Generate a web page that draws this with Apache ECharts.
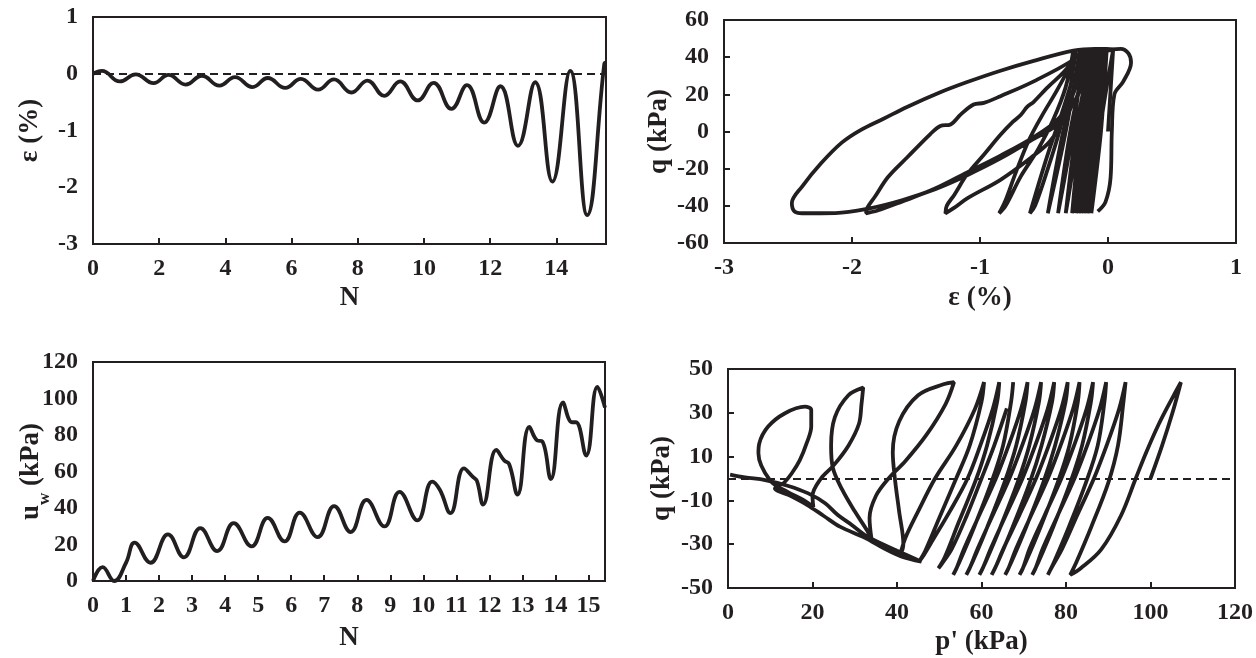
<!DOCTYPE html>
<html>
<head>
<meta charset="utf-8">
<script src="https://cdn.jsdelivr.net/npm/echarts@6/dist/echarts.min.js"></script>
<style>
html,body{margin:0;padding:0;background:#fff;}
#chart{width:1256px;height:658px;}
</style>
</head>
<body>
<div id="chart"></div>
<script>
// ---- Panel (a): axial strain vs number of cycles ----
const strainHistory = [
  [0,0.0],[0.27,0.05],[0.81,-0.135],[1.29,-0.01],[1.83,-0.165],[2.28,-0.02],[2.8,-0.19],
  [3.29,-0.035],[3.82,-0.21],[4.29,-0.06],[4.82,-0.235],[5.28,-0.075],[5.81,-0.25],
  [6.28,-0.09],[6.8,-0.28],[7.28,-0.1],[7.81,-0.33],[8.29,-0.12],[8.8,-0.39],
  [9.28,-0.135],[9.81,-0.47],[10.29,-0.16],[10.83,-0.62],[11.3,-0.2],[11.82,-0.86],
  [12.31,-0.22],[12.84,-1.27],[13.36,-0.15],[13.88,-1.9],[14.42,0.05],[14.93,-2.49],
  [15.45,0.18],[15.5,0.2]
];

// ---- Panel (b): deviator stress vs axial strain ----
const qStrainSmall = [
  [0,0],[0.02,22],[0.04,44],
  [-0.065,0],[-0.13,-44],[-0.055,0],[-0.01,44],
  [-0.105,0],[-0.16,-44],[-0.08,0],[-0.03,44],
  [-0.13,0],[-0.19,-44],[-0.105,0],[-0.05,44],
  [-0.15,0],[-0.21,-44],[-0.125,0],[-0.07,44],
  [-0.17,0],[-0.23,-44],[-0.145,0],[-0.09,44],
  [-0.19,0],[-0.25,-44],[-0.165,0],[-0.11,44],
  [-0.215,0],[-0.28,-44],[-0.19,0],[-0.13,44],
  [-0.25,0],[-0.33,-44],[-0.23,0],[-0.16,44],
  [-0.295,0],[-0.39,-44],[-0.275,0],[-0.19,44],
  [-0.35,0],[-0.47,-44],[-0.33,0],[-0.22,44]
];
const qStrainLarge = [
  [-0.27,30],[-0.36,10],[-0.46,-10],[-0.55,-30],[-0.61,-44],
  [-0.57,-40],[-0.47,-20],[-0.38,0],[-0.3,22],[-0.25,44],
  [-0.3,35],[-0.4,22],[-0.52,8],[-0.62,-5],[-0.72,-22],[-0.8,-37],[-0.85,-44],
  [-0.8,-40],[-0.68,-24],[-0.55,-10],[-0.43,6],[-0.33,24],[-0.27,44],
  [-0.3,35.7],[-0.48,23.2],[-0.58,16],[-0.63,13.4],[-0.68,9],[-0.74,5.4],[-0.84,-1.8],
  [-0.97,-12.5],[-1.1,-23],[-1.2,-34],[-1.26,-40],[-1.27,-44],
  [-1.2,-41],[-1.1,-36],[-0.84,-26],[-0.6,-14],[-0.45,-5],[-0.32,10],[-0.24,30],[-0.2,44],
  [-0.27,38.6],[-0.58,27],[-0.84,19],[-0.97,15.4],[-1.05,14.5],[-1.15,9.2],[-1.23,3.8],
  [-1.31,3],[-1.39,-1.5],[-1.57,-14],[-1.72,-24.6],[-1.82,-35],[-1.88,-41],[-1.89,-44],
  [-1.8,-42.5],[-1.62,-38],[-1.36,-31],[-1.1,-22],[-0.84,-13],[-0.58,-3],[-0.4,6],
  [-0.3,16],[-0.2,32],[-0.1,42],[0.04,44],
  [-0.1,44.5],[-0.27,43.5],[-0.58,38],[-0.84,32.7],[-1.1,26.6],[-1.31,21.1],[-1.57,13.2],
  [-1.75,7],[-1.93,0.9],[-2.08,-6],[-2.24,-17],[-2.39,-29.6],[-2.47,-38.5],[-2.45,-43],[-2.39,-44],
  [-2.13,-43.9],[-1.87,-41.5],[-1.61,-37],[-1.35,-31],[-1.1,-23.5],[-0.84,-14.5],[-0.58,-4],
  [-0.37,5],[-0.24,19],[-0.11,37],[-0.01,43.5],[0.1,44.5],[0.16,42],[0.18,37],[0.12,27],
  [0.05,20],[0.03,0],[0.02,-25],[-0.02,-38],[-0.08,-43]
];

// ---- Panel (c): excess pore pressure vs number of cycles ----
const poreHistory = [
  [0,0],[0.29,7.6],[0.64,0],[1.0,10],[1.26,21],[1.74,10],[2.27,25.5],[2.75,13],[3.25,29],
  [3.76,16.4],[4.26,31.7],[4.8,19],[5.29,34.6],[5.8,21.7],[6.26,37.5],[6.8,24],[7.3,41],
  [7.8,26.8],[8.28,44.4],[8.82,29.9],[9.28,48.8],[9.82,33.2],[10.27,54.5],[10.5,50],
  [10.82,37.2],[11.23,61.7],[11.5,57],[11.62,55],[11.81,41.9],[12.21,71.8],[12.45,66],
  [12.6,64],[12.85,47.4],[13.21,84.5],[13.45,77],[13.6,76.5],[13.86,55.9],[14.23,97.8],
  [14.5,87],[14.62,87],[14.93,68.7],[15.27,106.4],[15.5,95]
];

// ---- Panel (d): effective stress path q vs p' ----
const stressPathEarly = [
  [100,0],[102.7,14.8],[105.2,30],[107.2,44],
  [105.5,38],[102,25],[99,12],[96.5,0],[93,-17],[88.3,-32.5],[83.5,-41],[81,-44],
  [82.5,-38],[86,-22],[90,-2],[92.3,15],[93.6,35],[94.1,44],
  [92.6,32],[89.6,15],[86.6,0],[82.6,-17],[79.1,-32],[76.5,-41],[75.7,-44],
  [77.2,-38],[80.7,-22],[84.7,-2],[87.5,15],[89.1,35],[89.5,44],
  [88,32],[85,15],[82,0],[78,-17],[74.5,-32],[72.8,-41],[72,-44],
  [73.5,-38],[77,-22],[81,-2],[83.8,15],[85.9,35],[86.4,44],
  [84.9,32],[81.9,15],[78.9,0],[74.9,-17],[71.4,-32],[69.8,-41],[69,-44],
  [70.5,-38],[74,-22],[78,-2],[80.8,15],[82.8,35],[83.2,44],
  [81.7,32],[78.7,15],[75.7,0],[71.7,-17],[68.2,-32],[66.4,-41],[65.6,-44],
  [67.1,-38],[70.6,-22],[74.6,-2],[77.4,15],[79.9,35],[80.4,44],
  [78.9,32],[75.9,15],[72.9,0],[68.9,-17],[65.2,-32],[63.2,-41],[62.4,-44],
  [63.9,-38],[67.4,-22],[71.4,-2],[74.2,15],[76.7,35],[77.2,44],
  [75.7,32],[72.7,15],[69.7,0],[65.7,-17],[62.2,-32],[60.3,-41],[59.5,-44],
  [61,-38],[64.5,-22],[68.5,-2],[71.3,15],[73.6,35],[74.1,44],
  [72.6,32],[69.6,15],[66.6,0],[62.6,-17],[59.1,-32],[57.2,-41],[56.4,-44],
  [57.9,-38],[61.4,-22],[65.4,-2],[68.2,15],[70.4,35],[70.9,44],
  [69.4,32],[66.4,15],[63.4,0],[59.4,-17],[55.9,-32],[54.1,-41],[53.3,-44],
  [54.8,-38],[58.3,-22],[62.3,-2],[65.1,15],[67,35],[67.5,44]
];
const stressPathLate = [
  [66,32],[63,15],[60,0],[56.5,-17],[53,-32],[50.6,-39],[49.8,-41],
  [51.3,-36],[54.6,-20],[58.6,-1],[61.3,15],[63.7,35],[64.2,44],
  [62.7,32],[59.7,15],[56.7,0],[52.5,-15],[48.5,-28],[46,-36],[45.2,-38],
  [46.7,-33],[50,-18],[54,0],[57.2,15],[60,35],[60.6,44],
  [58.5,32],[54,15],[49,0],[45,-15],[42,-27],[41,-33],[40.7,-35.6],
  [41.5,-30],[40.5,-15],[39.5,0],[39,12],[40.5,26],[45,38],[51,43],[53.5,44],
  [51.5,34],[47,20],[42,8],[38,0],[35,-8],[33.5,-18],[34,-28],
  [33,-24],[30,-15],[27,-5],[24.8,5],[24.4,15],[25.3,28],[28.5,38],[32,41.5],
  [31.6,34],[31,25],[28.5,15],[25,6],[22,0],[20,-8],[20.2,-13],
  [18,-10],[14,-6],[10,-1],[7.2,11.5],[7.4,16],[9.5,23.7],[13.5,29.8],[18.2,32.8],
  [19.7,31.3],[19.7,23.7],[18.6,16],[17,8.4],[15.1,2.4],[13.1,-2.2],[11.1,-4.5],
  [14.9,-8],[18.7,-12],[22.6,-17],[26.5,-22],[32.3,-27],[37,-32],[41,-35.6],[45.8,-38],
  [40,-33],[35,-28.5],[32.4,-25.8],[29.3,-21.2],[26,-16.7],[23,-11.3],[19,-6.8],
  [14.3,-3.4],[8.8,-0.7],[4,0.5],[0.5,1.8]
];

// ---- axis settings ----
const panelTitles = {
  a: { x: 'N', y: 'ε (%)' },
  b: { x: 'ε (%)', y: 'q (kPa)' },
  c: { x: 'N', y: '{t|u}{s|w}{t| (kPa)}' },
  d: { x: "p' (kPa)", y: 'q (kPa)' }
};

const INK = '#231f20';
const FONT = '"Liberation Serif", "Times New Roman", serif';
const tickFont = { fontFamily: FONT, fontWeight: 'bold', fontSize: 24, color: INK };
const nameFont = { fontFamily: FONT, fontWeight: 'bold', fontSize: 27, color: INK };

function xAxis(idx, min, max, interval, name, gap) {
  return {
    type: 'value', gridIndex: idx, min: min, max: max, interval: interval,
    name: name, nameLocation: 'middle', nameGap: gap, nameTextStyle: nameFont,
    nameMoveOverlap: false,
    axisLine: { show: true, onZero: false, lineStyle: { color: INK, width: 2 } },
    axisTick: { show: true, inside: true, length: 6, lineStyle: { color: INK, width: 2 } },
    axisLabel: Object.assign({ margin: 13, showMaxLabel: (max % interval === 0) }, tickFont),
    splitLine: { show: false }
  };
}
function yAxis(idx, min, max, interval, name, gap, ticks, rich) {
  const ns = Object.assign({}, nameFont);
  if (rich) {
    ns.rich = {
      t: { fontFamily: FONT, fontWeight: 'bold', fontSize: 27, color: INK, padding: [0, 0, 8, 0], verticalAlign: 'top' },
      s: { fontFamily: FONT, fontWeight: 'bold', fontSize: 17, color: INK, verticalAlign: 'bottom' }
    };
  }
  return {
    type: 'value', gridIndex: idx, min: min, max: max, interval: interval,
    name: name, nameLocation: 'middle', nameGap: gap, nameRotate: 90, nameTextStyle: ns,
    nameMoveOverlap: false,
    axisLine: { show: true, onZero: false, lineStyle: { color: INK, width: 2 } },
    axisTick: { show: ticks, inside: true, length: 6, lineStyle: { color: INK, width: 2 } },
    axisLabel: Object.assign({ margin: 15 }, tickFont),
    splitLine: { show: false }
  };
}
function lineSeries(idx, data, smooth, extra) {
  return Object.assign({
    type: 'line', xAxisIndex: idx, yAxisIndex: idx, data: data,
    showSymbol: false, symbol: 'none', smooth: smooth, animation: false,
    lineStyle: { color: INK, width: 3.8 }, z: 3
  }, extra || {});
}
const zeroLine = {
  markLine: {
    silent: true, symbol: 'none', label: { show: false }, animation: false,
    lineStyle: { color: INK, width: 2, type: [8, 5] },
    data: [{ yAxis: 0 }]
  }
};

const chart = echarts.init(document.getElementById('chart'), null, { renderer: 'canvas' });
chart.setOption({
  backgroundColor: '#fff',
  animation: false,
  grid: [
    { left: 93, top: 17, width: 513, height: 227 },
    { left: 724, top: 20, width: 512, height: 223 },
    { left: 93, top: 362, width: 512, height: 219 },
    { left: 728, top: 369, width: 507, height: 219 }
  ].map(g => Object.assign(g, { show: true, borderColor: INK, borderWidth: 2, backgroundColor: 'transparent', containLabel: false })),
  xAxis: [
    xAxis(0, 0, 15.5, 2, panelTitles.a.x, 41),
    xAxis(1, -3, 1, 1, panelTitles.b.x, 42),
    xAxis(2, 0, 15.5, 1, panelTitles.c.x, 44),
    xAxis(3, 0, 120, 20, panelTitles.d.x, 41)
  ],
  yAxis: [
    yAxis(0, -3, 1, 1, panelTitles.a.y, 49, false, false),
    yAxis(1, -60, 60, 20, panelTitles.b.y, 51, true, false),
    yAxis(2, 0, 120, 20, panelTitles.c.y, 40, false, true),
    yAxis(3, -50, 50, 20, panelTitles.d.y, 52, true, false)
  ],
  series: [
    lineSeries(0, strainHistory, 0.45, zeroLine),
    lineSeries(1, qStrainSmall, 0.3),
    lineSeries(1, qStrainLarge, 0.35),
    lineSeries(2, poreHistory, 0.45),
    lineSeries(3, stressPathEarly, 0.35, zeroLine),
    lineSeries(3, stressPathLate, 0.35)
  ]
});
</script>
</body>
</html>
